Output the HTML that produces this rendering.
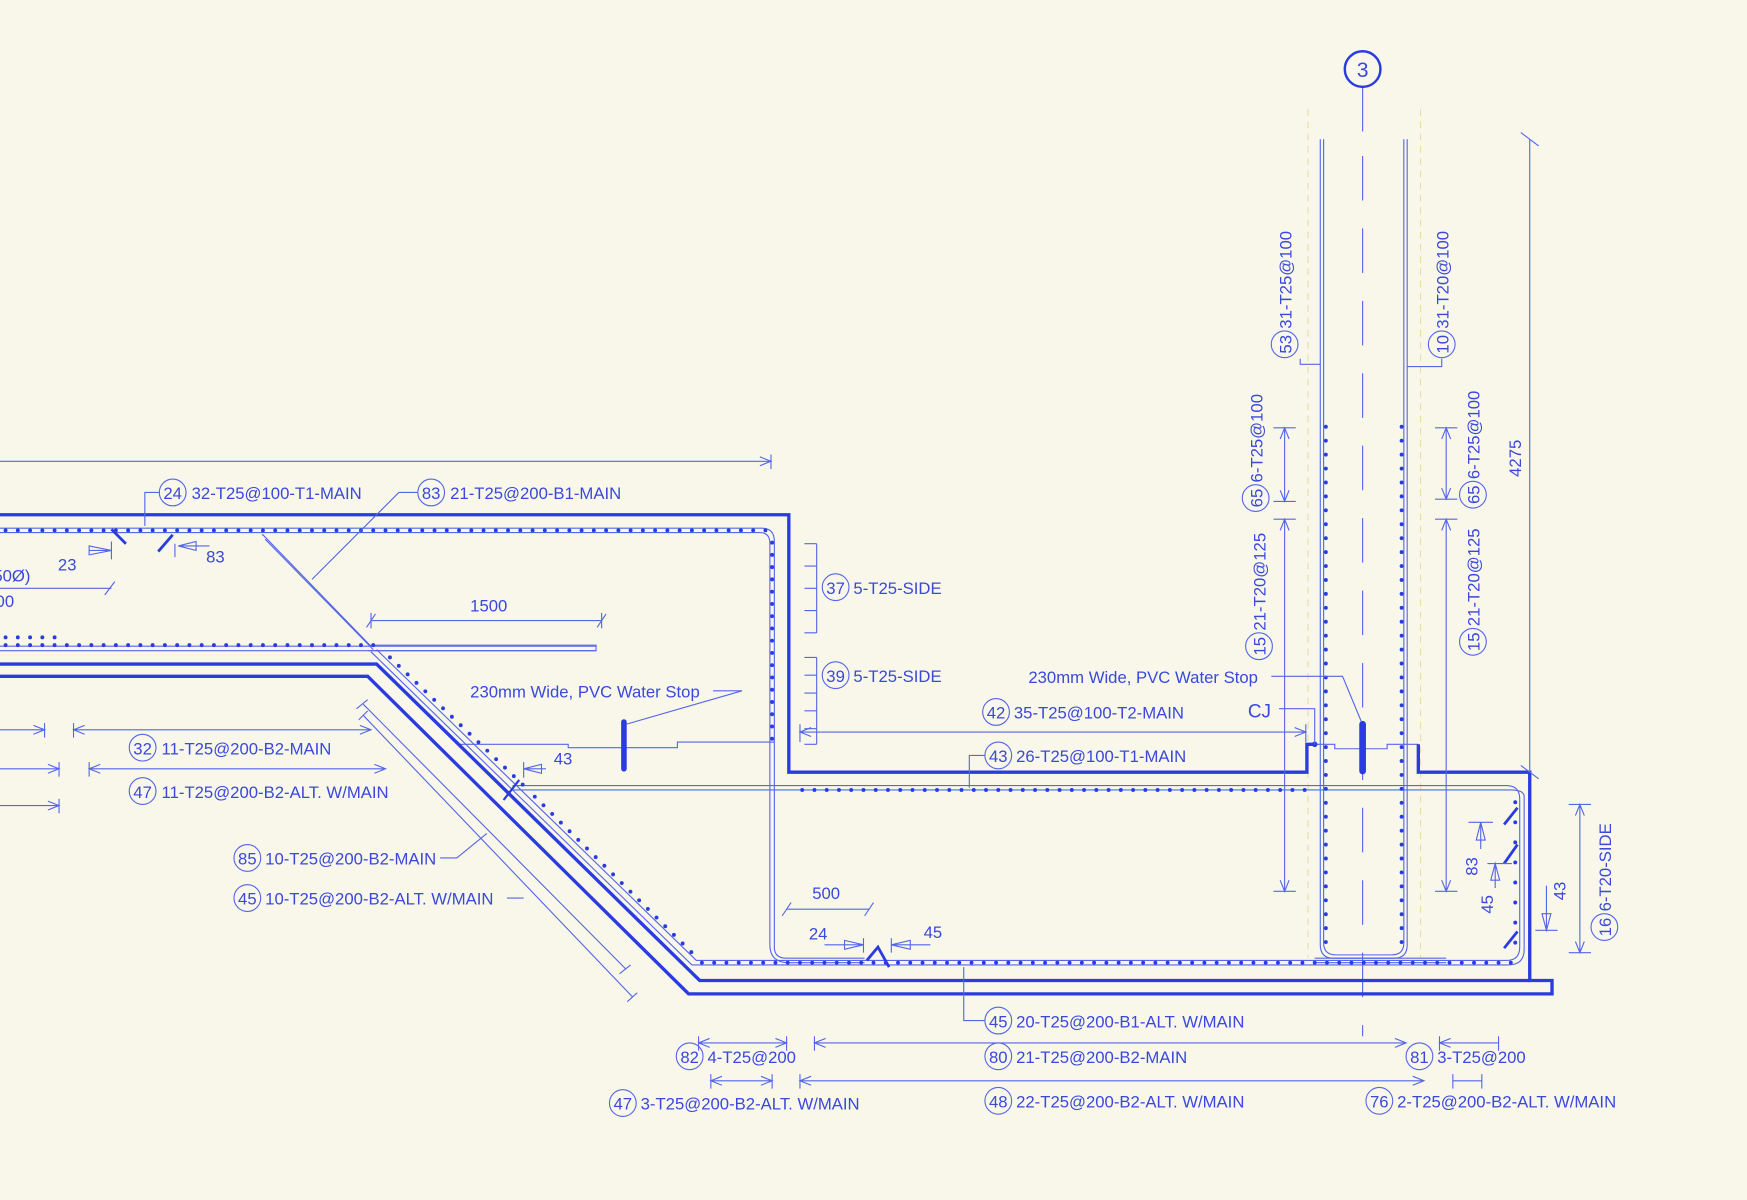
<!DOCTYPE html>
<html><head><meta charset="utf-8"><style>
html,body{margin:0;padding:0;background:#f8f7ea;}
svg{display:block}
text{font-family:"Liberation Sans Narrow","Liberation Sans",sans-serif;font-size:15px;fill:#3a48dc;}
</style></head><body>
<svg width="1747" height="1200" viewBox="0 0 1568 1077" preserveAspectRatio="none" xmlns="http://www.w3.org/2000/svg">
<rect width="1568" height="1077" fill="#f8f7ea"/>
<g fill="none" stroke="#5566e8" stroke-width="1">
<line x1="1174" y1="98" x2="1174" y2="860" stroke="#e6dfa8" stroke-dasharray="6 5"/>
<line x1="1275" y1="98" x2="1275" y2="860" stroke="#e6dfa8" stroke-dasharray="6 5"/>
<line x1="1223" y1="78" x2="1223" y2="118"/>
<line x1="1223" y1="140" x2="1223" y2="930" stroke-dasharray="40 25"/>
<path d="M1185,125 V848 Q1185,860 1197,860 H1251 Q1263,860 1263,848 V125"/>
<path d="M1188,125 V846 Q1188,857 1199,857 H1249 Q1260,857 1260,846 V125"/>
<path d="M0,474 H684 Q695,474 695,486 V850 Q695,860 706,860 H776"/>
<path d="M0,478 H682 Q691,478 691,488 V848 Q691,864 708,864 H776"/>
<path d="M235,480 H236 L332,579 H535 V584 H330"/>
<path d="M238,484 L335,583"/>
<path d="M0,580 H535 M0,584 H535"/>
<path d="M338,583 L625,862 H1352 Q1364,862 1364,850 V717 Q1364,705 1352,705 H460"/>
<path d="M333,585 L621,866 H1354 Q1368,866 1368,852 V715 Q1368,709 1356,709 H460"/>
<line x1="1180" y1="864" x2="1298" y2="864"/><line x1="1180" y1="860" x2="1298" y2="860"/>
<path d="M412,668 H510 V671 H608 V666 H695"/>
<path d="M1180,668 H1198 V672 H1245 V668 H1273"/>
</g>
<g stroke="#2a3be0" stroke-width="3.5" stroke-linecap="round" fill="none" stroke-dasharray="0 11">
<line x1="5" y1="476" x2="690" y2="476"/>
<line x1="693" y1="487" x2="693" y2="668"/>
<line x1="5" y1="579" x2="345" y2="579"/>
<line x1="5" y1="572" x2="55" y2="572"/>
<line x1="350" y1="590" x2="470" y2="705"/>
<line x1="480" y1="715" x2="622" y2="856"/>
<line x1="630" y1="864" x2="1360" y2="864"/>
<line x1="720" y1="709" x2="1180" y2="709"/>
<line x1="1360" y1="720" x2="1360" y2="850" stroke-dasharray="0 18"/>
<line x1="1190" y1="383" x2="1190" y2="850" stroke-dasharray="0 12.5"/>
<line x1="1258" y1="383" x2="1258" y2="850" stroke-dasharray="0 12.5"/>
</g>
<g fill="none" stroke="#2a3be0" stroke-width="3">
<path d="M0,462 H708 V693 H1173 V668 H1180"/>
<path d="M1273,668 V693 H1373 V880 H1393 V892 H618 L330,607 H0"/>
<path d="M0,596 H338 L628,880 H1373"/>
<line x1="560" y1="648" x2="560" y2="690" stroke-width="5" stroke-linecap="round"/>
<line x1="1223" y1="650" x2="1223" y2="692" stroke-width="6" stroke-linecap="round"/>
<line x1="100" y1="475" x2="113" y2="488" stroke-width="2.5"/>
<line x1="142" y1="495" x2="155" y2="480" stroke-width="2.5"/>
<line x1="452" y1="718" x2="466" y2="700" stroke-width="2"/>
<path d="M778,862 L788,850 L798,868" stroke-width="2.5"/>
<path d="M1350,740 L1362,725 M1350,775 L1362,758 M1350,851 L1362,836" stroke-width="2.5"/>
</g>
<circle cx="1180" cy="668" r="2.5" fill="#2a3be0"/>
<circle cx="1223" cy="62" r="16" fill="none" stroke="#2a3be0" stroke-width="2.2"/>
<text x="1223" y="69" text-anchor="middle" style="font-size:19px;font-family:'Liberation Sans'">3</text>
<g fill="none" stroke="#5566e8" stroke-width="1">
<line x1="0" y1="414" x2="692" y2="414"/><line x1="692" y1="408" x2="692" y2="421"/><path d="M682,410 L692,414 L682,418"/>
<path d="M143,442 H130 V472"/><path d="M375,442 H358 L280,520"/>
<path d="M80,494 H100 M100,486 V502"/><path d="M80,490 L100,494 L80,498 Z"/>
<path d="M157,488 V500 M160,490 H188 M160,490 L176,486 L176,494 Z"/>
<path d="M0,528 H100 M94,534 L103,522"/>
<path d="M333,557 H540 M329,563 L337,551 M536,563 L544,551 M333,550 V564 M540,550 V564"/>
<path d="M733,488 V568 M722,488 H733 M722,508 H733 M722,528 H733 M722,548 H733 M722,568 H733"/>
<path d="M733,590 V668 M722,590 H733 M722,606 H733 M722,622 H733 M722,638 H733 M722,654 H733 M722,668 H733"/>
<path d="M640,620 H666 L562,650"/>
<path d="M1141,607 H1205 L1222,648"/>
<path d="M1148,636 H1180 V668"/>
<path d="M718,657 H1172 M728,653 L718,657 L728,661 M1162,653 L1172,657 L1162,661 M718,650 V666 M1172,650 V666"/>
<path d="M884,678 H870 V707"/>
<path d="M470,690 H490 M470,684 V698 M470,690 L486,686 L486,694 Z"/>
<path d="M0,655 H40 M40,649 V662 M30,651 L40,655 L30,659"/>
<path d="M66,655 H333 M66,649 V662 M76,651 L66,655 L76,659 M323,651 L333,655 L323,659"/>
<path d="M0,690 H53 M53,684 V697 M43,686 L53,690 L43,694"/>
<path d="M80,690 H346 M80,684 V697 M90,686 L80,690 L90,694 M336,686 L346,690 L336,694"/>
<path d="M0,723 H53 M53,717 V730 M43,719 L53,723 L43,727"/>
<path d="M395,770 H410 L437,748"/><path d="M455,806 H470"/>
<path d="M326,632 L562,870 M320,636 L330,628 M556,874 L566,866"/>
<path d="M326,642 L568,895 M322,646 L330,638 M563,899 L572,891"/>
<path d="M706,816 H780 M702,822 L710,810 M776,822 L784,810"/>
<path d="M740,848 H775 M775,842 V855 M758,844 L775,848 L758,852 Z"/>
<path d="M800,842 V855 M800,848 H835 M800,848 L817,844 L817,852 Z"/>
<path d="M865,868 V916 H884"/>
<path d="M627,936 H706 M627,930 V943 M706,930 V943 M637,932 L627,936 L637,940 M696,932 L706,936 L696,940"/>
<path d="M731,936 H1262 M731,930 V943 M741,932 L731,936 L741,940 M1252,932 L1262,936 L1252,940"/>
<path d="M1292,936 H1345 M1292,930 V943 M1345,930 V943 M1302,932 L1292,936 L1302,940"/>
<path d="M638,970 H693 M638,964 V977 M693,964 V977 M648,966 L638,970 L648,974 M683,966 L693,970 L683,974"/>
<path d="M718,970 H1278 M718,964 V977 M728,966 L718,970 L728,974 M1268,966 L1278,970 L1268,974"/>
<path d="M1304,970 H1330 M1304,964 V977 M1330,964 V977"/>
<path d="M1153,384 V450 M1143,384 H1163 M1143,450 H1163 M1149,394 L1153,384 L1157,394 M1149,440 L1153,450 L1157,440"/>
<path d="M1153,466 V800 M1143,466 H1163 M1143,800 H1163 M1149,476 L1153,466 L1157,476 M1149,790 L1153,800 L1157,790"/>
<path d="M1298,384 V448 M1288,384 H1308 M1288,448 H1308 M1294,394 L1298,384 L1302,394 M1294,438 L1298,448 L1302,438"/>
<path d="M1298,466 V800 M1288,466 H1308 M1288,800 H1308 M1294,476 L1298,466 L1302,476 M1294,790 L1298,800 L1302,790"/>
<path d="M1373,125 V693 M1365,119 L1381,131 M1365,687 L1381,699"/>
<path d="M1418,722 V855 M1408,722 H1428 M1408,855 H1428 M1414,732 L1418,722 L1422,732 M1414,845 L1418,855 L1422,845"/>
<path d="M1318,738 H1340 M1329,738 V762 M1329,738 L1325,754 L1333,754 Z"/>
<path d="M1335,775 H1357 M1342,775 V797 M1342,775 L1338,790 L1346,790 Z"/>
<path d="M1378,835 H1398 M1388,795 V835 M1388,835 L1384,820 L1392,820 Z"/>
<path d="M1185,327 H1167 V322"/><path d="M1263,329 H1294 V322"/>
</g>
<g fill="none" stroke="#5566e8" stroke-width="1">
<circle cx="155" cy="442" r="12"/><circle cx="387" cy="442" r="12"/>
<circle cx="750" cy="527" r="12"/><circle cx="750" cy="606" r="12"/>
<circle cx="894" cy="639" r="12"/><circle cx="896" cy="678" r="12"/>
<circle cx="128" cy="671" r="12"/><circle cx="128" cy="710" r="12"/>
<circle cx="222" cy="770" r="12"/><circle cx="222" cy="806" r="12"/>
<circle cx="896" cy="916" r="12"/><circle cx="619" cy="948" r="12"/>
<circle cx="896" cy="948" r="12"/><circle cx="1274" cy="948" r="12"/>
<circle cx="559" cy="990" r="12"/><circle cx="896" cy="988" r="12"/>
<circle cx="1238" cy="988" r="12"/>
<circle cx="1153" cy="309" r="12"/><circle cx="1127" cy="447" r="12"/><circle cx="1130" cy="580" r="12"/>
<circle cx="1294" cy="309" r="12"/><circle cx="1322" cy="444" r="12"/><circle cx="1322" cy="576" r="12"/>
<circle cx="1440" cy="832" r="12"/>
</g>
<g>
<text x="155" y="448" text-anchor="middle">24</text><text x="172" y="448">32-T25@100-T1-MAIN</text>
<text x="387" y="448" text-anchor="middle">83</text><text x="404" y="448">21-T25@200-B1-MAIN</text>
<text x="52" y="512">23</text><text x="185" y="505">83</text>
<text x="-6" y="522">50Ø)</text><text x="-4" y="545">00</text>
<text x="422" y="549">1500</text>
<text x="422" y="626">230mm Wide, PVC Water Stop</text>
<text x="497" y="686">43</text>
<text x="750" y="533" text-anchor="middle">37</text><text x="766" y="533">5-T25-SIDE</text>
<text x="750" y="612" text-anchor="middle">39</text><text x="766" y="612">5-T25-SIDE</text>
<text x="923" y="613">230mm Wide, PVC Water Stop</text>
<text x="1120" y="644" style="font-size:17px">CJ</text>
<text x="894" y="645" text-anchor="middle">42</text><text x="910" y="645">35-T25@100-T2-MAIN</text>
<text x="896" y="684" text-anchor="middle">43</text><text x="912" y="684">26-T25@100-T1-MAIN</text>
<text x="128" y="677" text-anchor="middle">32</text><text x="145" y="677">11-T25@200-B2-MAIN</text>
<text x="128" y="716" text-anchor="middle">47</text><text x="145" y="716">11-T25@200-B2-ALT. W/MAIN</text>
<text x="222" y="776" text-anchor="middle">85</text><text x="238" y="776">10-T25@200-B2-MAIN</text>
<text x="222" y="812" text-anchor="middle">45</text><text x="238" y="812">10-T25@200-B2-ALT. W/MAIN</text>
<text x="729" y="807">500</text><text x="726" y="843">24</text><text x="829" y="842">45</text>
<text x="896" y="922" text-anchor="middle">45</text><text x="912" y="922">20-T25@200-B1-ALT. W/MAIN</text>
<text x="619" y="954" text-anchor="middle">82</text><text x="635" y="954">4-T25@200</text>
<text x="896" y="954" text-anchor="middle">80</text><text x="912" y="954">21-T25@200-B2-MAIN</text>
<text x="1274" y="954" text-anchor="middle">81</text><text x="1290" y="954">3-T25@200</text>
<text x="559" y="996" text-anchor="middle">47</text><text x="575" y="996">3-T25@200-B2-ALT. W/MAIN</text>
<text x="896" y="994" text-anchor="middle">48</text><text x="912" y="994">22-T25@200-B2-ALT. W/MAIN</text>
<text x="1238" y="994" text-anchor="middle">76</text><text x="1254" y="994">2-T25@200-B2-ALT. W/MAIN</text>
<g transform="translate(1159,309) rotate(-90)"><text x="0" y="0" text-anchor="middle">53</text><text x="14" y="0">31-T25@100</text></g>
<g transform="translate(1133,447) rotate(-90)"><text x="0" y="0" text-anchor="middle">65</text><text x="14" y="0">6-T25@100</text></g>
<g transform="translate(1136,580) rotate(-90)"><text x="0" y="0" text-anchor="middle">15</text><text x="14" y="0">21-T20@125</text></g>
<g transform="translate(1300,309) rotate(-90)"><text x="0" y="0" text-anchor="middle">10</text><text x="14" y="0">31-T20@100</text></g>
<g transform="translate(1328,444) rotate(-90)"><text x="0" y="0" text-anchor="middle">65</text><text x="14" y="0">6-T25@100</text></g>
<g transform="translate(1328,576) rotate(-90)"><text x="0" y="0" text-anchor="middle">15</text><text x="14" y="0">21-T20@125</text></g>
<g transform="translate(1446,832) rotate(-90)"><text x="0" y="0" text-anchor="middle">16</text><text x="14" y="0">6-T20-SIDE</text></g>
<text transform="translate(1365,428) rotate(-90)">4275</text>
<text transform="translate(1326,786) rotate(-90)">83</text>
<text transform="translate(1340,820) rotate(-90)">45</text>
<text transform="translate(1405,808) rotate(-90)">43</text>
</g>
</svg>
</body></html>
